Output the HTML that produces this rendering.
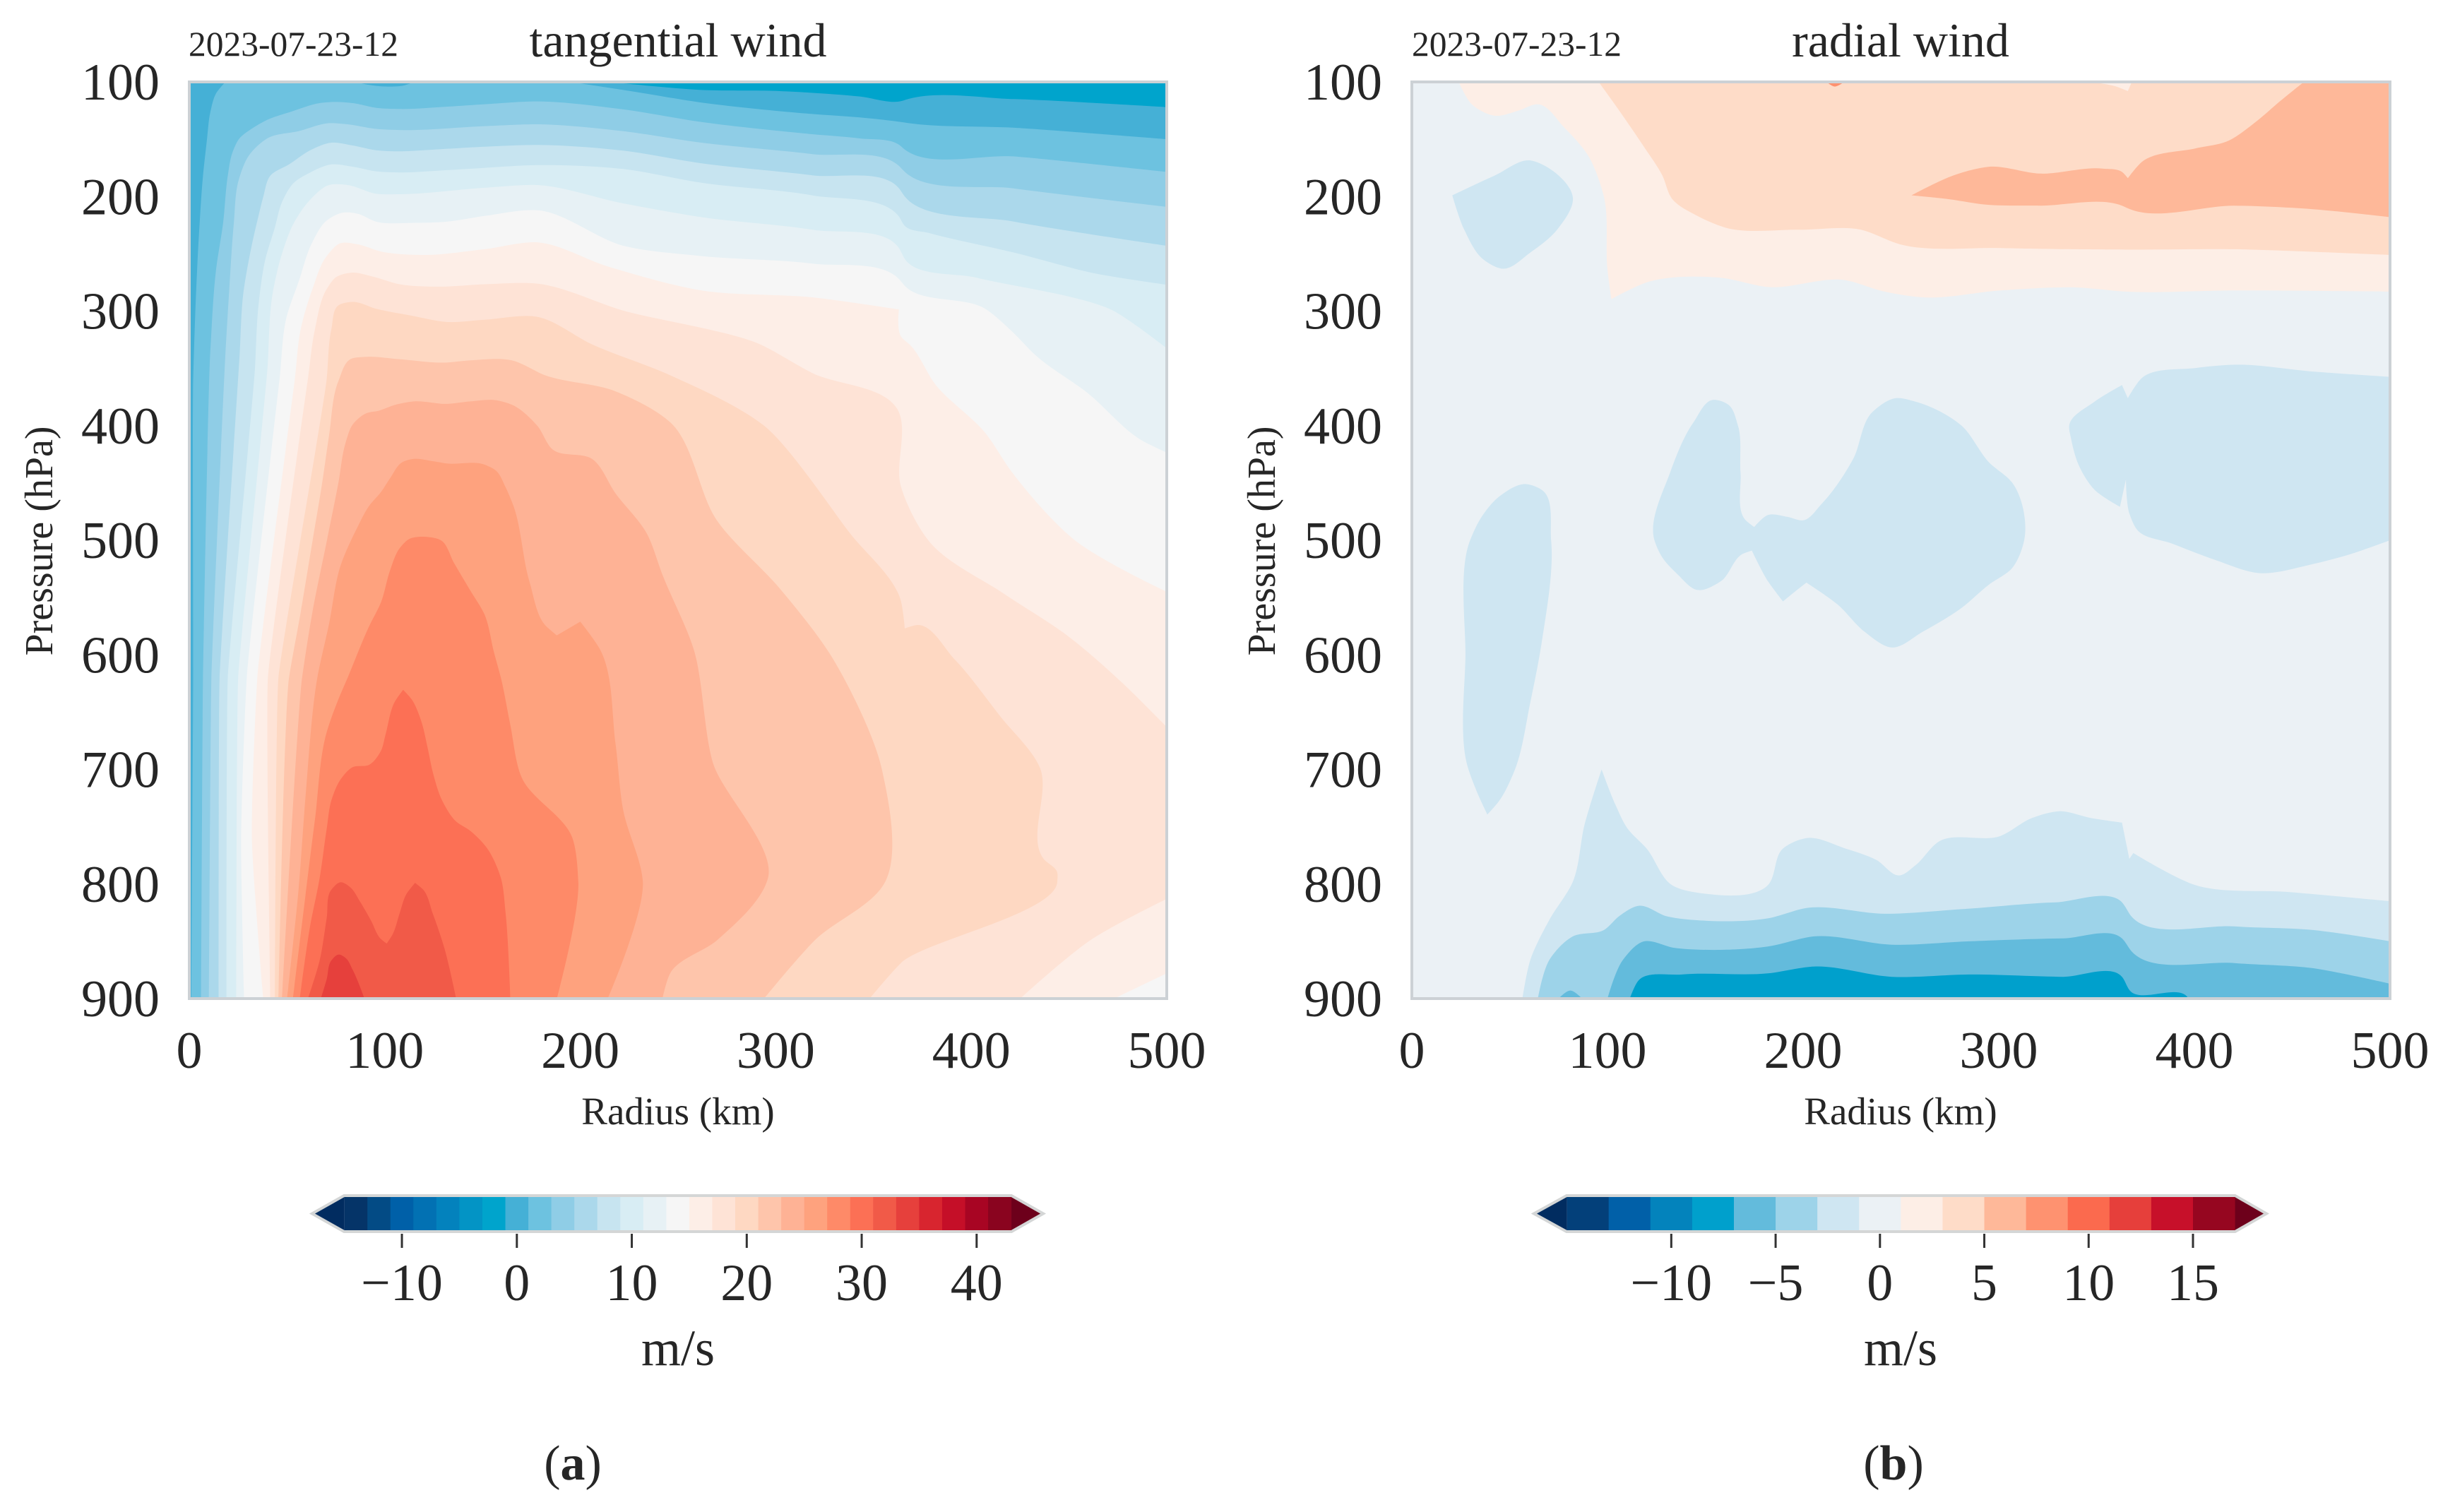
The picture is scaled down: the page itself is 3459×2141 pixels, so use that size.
<!DOCTYPE html>
<html lang="en">
<head>
<meta charset="utf-8">
<title>Tangential and radial wind cross sections</title>
<style>
html,body{margin:0;padding:0;background:#fff;}
svg{display:block;}
text{font-family:"Liberation Serif","Times New Roman",serif;fill:#262626;}
</style>
</head>
<body>
<svg id="figure" xmlns="http://www.w3.org/2000/svg" width="3459" height="2141" viewBox="0 0 3459 2141">
  <rect x="0" y="0" width="3459" height="2141" fill="#ffffff"/>
  <defs>
    <clipPath id="clip-a"><rect x="268" y="116" width="1384" height="1298"/></clipPath>
    <clipPath id="clip-b"><rect x="1999" y="116" width="1385" height="1298"/></clipPath>
  </defs>

  <g id="panel-a">
    <g id="field-a" clip-path="url(#clip-a)"></g>
    <rect x="268" y="116" width="1384" height="1298" fill="none" stroke="#ccd1d5" stroke-width="4"/>
    <text x="267" y="79" font-size="49.5">2023-07-23-12</text>
    <text x="960" y="80" font-size="68" text-anchor="middle">tangential wind</text>
    <text x="960" y="1592" font-size="55" text-anchor="middle">Radius (km)</text>
    <text transform="translate(74,766) rotate(-90)" font-size="56" text-anchor="middle">Pressure (hPa)</text>
    <g id="ticks-a"></g>
    <g id="bar-a"></g>
    <text x="960" y="1933" font-size="72" text-anchor="middle">m/s</text>
    <text x="811" y="2095" font-size="70" text-anchor="middle">(<tspan font-weight="bold">a</tspan>)</text>
  </g>

  <g id="panel-b">
    <g id="field-b" clip-path="url(#clip-b)"></g>
    <rect x="1999" y="116" width="1385" height="1298" fill="none" stroke="#ccd1d5" stroke-width="4"/>
    <text x="1999" y="79" font-size="49.5">2023-07-23-12</text>
    <text x="2691" y="80" font-size="68" text-anchor="middle">radial wind</text>
    <text x="2691" y="1592" font-size="55" text-anchor="middle">Radius (km)</text>
    <text transform="translate(1805,766) rotate(-90)" font-size="56" text-anchor="middle">Pressure (hPa)</text>
    <g id="ticks-b"></g>
    <g id="bar-b"></g>
    <text x="2691" y="1933" font-size="72" text-anchor="middle">m/s</text>
    <text x="2681" y="2095" font-size="70" text-anchor="middle">(<tspan font-weight="bold">b</tspan>)</text>
  </g>
</svg>

<script>
// Axis tick values
const radiusTicks = [0, 100, 200, 300, 400, 500];
const pressureTicks = [100, 200, 300, 400, 500, 600, 700, 800, 900];

// Colour scales: lower bound of each filled band and its colour
const tangentialLevels = [-15,-13,-11,-9,-7,-5,-3,-1,1,3,5,7,9,11,13,15,17,19,21,23,25,27,29,31,33,35,37,39,41];
const tangentialColors = ['#053468','#034b85','#0060a8','#0271b3','#0382bd','#0394c5','#00a4cc','#45b0d6','#6dc2e0','#8fcde6','#abd8eb','#c7e4f0','#d8edf4','#e7f1f5','#f6f6f6','#fdeee7','#fee3d6','#fed8c2','#fec5ab','#feb295','#fea27e','#fe8a68','#fc7055','#f15a48','#e6403c','#d8252f','#c50f28','#a80523','#8a041f'];
const tangentialBarTicks = [-10, 0, 10, 20, 30, 40];
const radialLevels = [-15,-13,-11,-9,-7,-5,-3,-1,1,3,5,7,9,11,13,15];
const radialColors = ['#03407a','#0160a8','#0383bc','#00a0cc','#63bbdc','#9dd3e9','#cfe6f2','#ebf1f5','#fdeee6','#fedcc8','#feb899','#fe9270','#fb6a4e','#e63f3b','#c7102a','#960620'];
const radialBarTicks = [-10, -5, 0, 5, 10, 15];

// Tangential wind contours: [radius km, pressure hPa], region at or above the level
const tanLevelM1 = [[215,100],[262,107],[302,108],[343,112.7],[364,116.8],[368,114.8],[422,115],[500,122],[500,900],[0,900],[0,100]];
const tanLevel1 = [[18.5,100],[13.7,110],[10.7,127],[9,151],[7,182],[5.3,223],[4,264],[3,305],[2,360],[2,620],[1,900],[500,900],[500,150],[422,140],[368,136],[364,135],[343,131],[318.6,128],[262,118],[222,107],[195,100],[115,100],[110,103],[100,104],[90,102],[85,100]];
const tanLevel3 = [[6,900],[7,620],[10.7,337],[13.7,264],[17.3,223],[19.7,182],[22,162],[25.8,149],[31.8,141],[40,133],[52,126],[66.7,118.5],[74,117.5],[83.6,118.5],[95.7,122.6],[107.7,123.6],[132,121.6],[151,119.5],[178,117],[222,124],[262,135],[318.6,145.6],[343,149.3],[363,154.8],[366,159],[422,165],[500,178.5],[500,900]];
const tanLevel5 = [[10,900],[11.3,620],[18.5,337],[20.3,285],[22.8,223],[25.2,186],[30.6,164],[40.2,149],[55.9,143],[71.5,136],[81,137],[95.6,141],[107.6,142],[151,138.6],[178,137],[222,143],[262,153],[318.6,163],[363,173.3],[366,178.5],[422,193],[500,209],[500,900]];
const tanLevel7 = [[15,900],[15.5,620],[25.8,337],[27.6,285],[31.8,244],[35.4,217],[37.8,200.6],[41.4,182],[51,172],[61.9,159.6],[72.7,153],[83.6,155.5],[95.6,159.6],[107.6,160.6],[119.7,159.6],[151,156.5],[178,155],[222,160],[262,171],[318.6,181.5],[363,192.8],[366,200],[422,222],[500,243],[500,900]];
const tanLevel9 = [[19,900],[19.7,620],[33.6,350],[35.4,295],[39,254],[43.8,227],[47.4,205],[53.5,188],[61.9,179],[72.7,172],[83.6,174],[95.6,178],[107.6,179],[131.7,177],[151,175],[178,172.6],[222,176],[262,188],[318.6,199],[363,217.5],[366,225.7],[378.8,232],[422,249],[463,267],[500,277],[500,900]];
const tanLevel11 = [[24,900],[25,620],[40,350],[42.6,285],[47.4,250],[53.5,223],[61.9,202.7],[71.5,190],[81,190],[95.6,197.6],[107.6,198],[151,192.4],[178,190],[222,206],[262,218],[318.6,229],[363,245],[366,254.5],[403,271],[473,300],[500,332.5],[500,900]];
const tanLevel13 = [[28,900],[26.5,760],[29.4,620],[46.2,359],[49.8,305],[55.9,274.6],[63,239.7],[70.3,221],[78.7,214],[86,215],[95.6,222],[113.7,223],[131.7,222],[151,217],[178,212],[222,243],[262,252],[318.6,258.6],[363,272],[366,278],[407.7,298.6],[421,318],[433,338.7],[459.5,371.5],[487,412.6],[500,423.5],[500,900]];
const tanLevel15 = [[37.8,900],[32,760],[34.8,620],[54,359],[57,315.7],[63,280.8],[70.3,252],[77.5,240.7],[86,241.7],[98,248],[119.7,251],[151,246],[178,240],[214,261],[262,282],[318.6,288],[363,298.6],[364,322],[369,330],[381.6,364],[407,406],[421,441],[453,500],[500,545],[500,878],[473,900]];
const tanLevel17 = [[41.4,900],[40.2,620],[60.7,359],[64.3,315.7],[70.3,280.8],[75,270.5],[83.6,266.4],[93,269.5],[107.6,276.6],[127,278.7],[151,276.6],[178,276],[222,299.6],[292,329],[318.6,354],[362,385],[364,453],[378,500],[417,547],[449,583],[477,624],[500,663],[500,813],[461,849],[425,900]];
const tanLevel19 = [[43.8,900],[45.6,620],[70.3,359],[72.7,315.7],[76.3,295],[83.6,292],[95.6,298],[113.7,304],[131.7,309.5],[151,307.5],[178,305],[206,329],[246,356],[294,400],[338,494],[364,553],[366,577],[372,574],[391.5,604],[415,654],[435,698],[437,778],[444,790],[444,798],[364,869],[348,900]];
const tanLevel21 = [[45.6,900],[51,620],[57,562.6],[63,501],[68,449.7],[71.5,408.6],[76.3,361],[82.4,342],[89.6,340],[107.6,342],[130.5,345],[143.8,343],[165,343],[182,356],[218,370],[246,397],[270,483],[302,542],[328,600],[354,698],[356,798],[320,849],[294,900]];
const tanLevel23 = [[47.4,900],[57.7,620],[63,562.6],[70.3,501],[76.3,449.7],[80,414.7],[83.6,399],[90.8,389],[96.8,387],[105,382],[114.9,378.8],[131.7,381],[143.8,378.8],[157,377.8],[165.4,382],[178,400],[186,421],[206,429],[218,459],[234,494],[242,530],[258,595],[268,695],[296,795],[270,849],[246,878],[242,900]];
const tanLevel25 = [[50,900],[55.9,805],[59.5,723],[65.5,620],[71.5,573],[77.5,521.6],[86,488.7],[92,470],[98,458],[102.8,445.6],[108.8,432],[114.9,429],[124.5,431],[131.7,433],[151,434],[157,439.4],[161.8,453.8],[165.4,468],[174,536],[182,574],[188,583],[200,571],[210,595],[218,677],[222,736],[232,798],[214,900]];
const tanLevel27 = [[53,900],[58.3,825.6],[64.3,743.4],[70.3,667.4],[76.3,638.7],[81,620],[92,575],[98,554.4],[102.8,525.7],[107.6,507],[112.4,499],[120.9,497],[128.7,500],[135.3,519.5],[143.8,544],[151,564.7],[155.8,597.5],[159.4,620],[164.2,661],[170,707],[196,760],[199,798],[188,900]];
const tanLevel29 = [[56.5,900],[61.9,835.9],[66.7,794.8],[70.3,751.7],[72.7,727],[77.5,708.5],[83.6,698],[92,696],[98,683.9],[100.4,669.5],[105.2,640.7],[109.4,630.5],[113.7,638.7],[118.5,657],[122,681.8],[124.5,702],[129.3,727],[136.5,745.5],[143.8,753.7],[152,768],[159.4,794.8],[161.8,825.6],[164.2,900]];
const tanLevel31 = [[60.7,900],[66.7,866.7],[70.3,829.7],[72.7,805],[77.5,798.5],[82.4,803],[87.2,815],[93,832],[98,848],[101,852],[104,844],[107.6,825.6],[111,809],[115.5,799],[119.7,805],[124.5,825.6],[130.5,856],[136.5,900]];
const tanLevel33 = [[67.3,900],[70.3,883],[72.7,866.7],[76.3,861.6],[80,864.6],[83.6,875],[89.6,900]];
const tangentialContours = [
  [-1, tanLevelM1],[1, tanLevel1],[3, tanLevel3],[5, tanLevel5],[7, tanLevel7],[9, tanLevel9],[11, tanLevel11],[13, tanLevel13],[15, tanLevel15],[17, tanLevel17],[19, tanLevel19],[21, tanLevel21],[23, tanLevel23],[25, tanLevel25],[27, tanLevel27],[29, tanLevel29],[31, tanLevel31],[33, tanLevel33]
];

// Radial wind contours: [radius km, pressure hPa]
const radUpper1 = [[24,100],[30.6,119.5],[42.6,129.5],[54.5,125],[64.4,119.5],[78,140],[90,164],[98,199],[100,264],[102,289.5],[120,275],[158,271],[182,279],[221.6,273],[241.5,283],[261,288],[301,282],[341,279.5],[365,283],[420,282],[500,283],[500,100]];
const radUpper3 = [[95.5,100],[106,125],[118,155],[128,181.5],[133,202],[146,217],[160,227],[198,229],[229.5,229],[249.4,241.7],[301,245],[365,246.4],[420,246],[500,251],[500,100],[368,100],[366,108],[360,104],[347,100]];
const radUpper5 = [[255.4,199],[277,181.5],[295,174],[321,180],[353,175.6],[363,178.5],[366,184],[373,170],[400.6,158],[416.5,152],[432,134],[444,116.5],[456,100],[500,100],[500,218],[460,211],[420.5,208],[367,211],[363,208],[321,208],[293,207],[273,202]];
const radUpperSpot5 = [[212,100],[216,104],[221,100]];
const radIslandA = [[20.7,199],[42.6,181.5],[60.5,168.5],[70.4,175.6],[82.3,201],[74.4,228.7],[60.5,249],[46.5,263],[36.6,255],[26.7,228.7]];
const radIslandB = [[29.8,500],[34.6,482.6],[44.6,462],[58.5,451],[66.4,456],[71.2,500],[66.4,589],[60.5,642],[52.5,701],[44.6,727.6],[38.6,739.4],[33.8,721.7],[28.6,698],[27.4,600.7]];
const radIslandC = [[124,500],[132,441],[144,397],[154,377.5],[162,382],[166.7,400],[168,441],[170.7,482.6],[175,488.5],[182,478],[192,479.6],[200,482.6],[209.6,468],[225.6,429],[235.5,388],[247.4,376],[257.4,379],[281,400],[295,432],[307,450],[313,500],[307,524],[295,538.7],[281,559],[261,580],[245.4,593.6],[231.5,580],[217.6,556],[201.7,537],[196,544.6],[189.7,553.4],[182,535.7],[173.8,509],[169,512],[158,535.7],[146,543.4],[136,530],[128,515]];
const radIslandD = [[336,400],[349,379],[363,364.5],[366,376],[373,358.6],[400.6,349.7],[420.5,346.8],[460,352.7],[500,357.4],[500,500],[480,512],[460,521],[432.4,528.6],[412,518],[388.7,503],[370.8,491],[366.8,476.7],[365,447],[362,470.8],[349,456],[341,435],[337,411.7]];
const radLower3 = [[56.5,900],[60.5,866.6],[70.4,831],[82.3,798],[88.3,748],[97,700],[104,730.6],[110,751],[120,769],[133,801],[150,808.5],[182,801],[189.7,769],[201.7,760],[221.6,769],[237.5,779],[249.4,792.5],[257.4,783.7],[269.3,763],[301,758],[317,742.4],[331,736.5],[347,742.4],[363,746.5],[366.8,778],[368.8,773],[400.6,801],[448.3,807],[500,815],[500,900]];
const radLower5 = [[64.4,900],[70.4,866],[82.3,845.7],[98.3,840],[106,828],[116,819],[130,828],[150,832],[182,830],[201.7,821],[241.5,826],[281,822],[329,816],[363,816],[367.7,828],[420.5,837],[460,840],[500,850],[500,900]];
const radLower7 = [[100,900],[108,866],[118,850.4],[134,855.7],[158,857.5],[182,854.6],[205.7,845.7],[245.4,853],[285,850],[333,847.5],[363,847.5],[368,859],[420.5,869],[460,873.4],[500,887],[500,900]];
const radLowerSpot7 = [[75,900],[81,893],[87,900]];
const radLower9 = [[111.4,900],[116,884],[138,879],[182,878],[205.7,872],[245.4,881],[285,879],[333,881],[363,881],[367,893],[396.6,899],[397,900]];
const radialContours = [
  [1, radUpper1],[3, radUpper3],[5, radUpper5],[7, radUpperSpot5],
  [-3, radIslandA],[-3, radIslandB],[-3, radIslandC],[-3, radIslandD],
  [-3, radLower3],[-5, radLower5],[-7, radLower7],[-7, radLowerSpot7],[-9, radLower9]
];

const SVGNS = 'http://www.w3.org/2000/svg';

function linear(d0, d1, r0, r1) {
  return function (v) { return r0 + (v - d0) * (r1 - r0) / (d1 - d0); };
}
function bandColor(levels, colors, value) {
  let idx = 0;
  for (let i = 0; i < levels.length; i++) { if (value >= levels[i]) idx = i; }
  return colors[idx];
}
function onPlotEdge(pt) {
  return pt[0] <= 0 || pt[0] >= 500 || pt[1] <= 100 || pt[1] >= 900;
}
// Closed outline through scaled points. Plot-edge points and sharp kinks stay as corners;
// other points get a short chord-weighted tangent so long straight runs do not bow.
function smoothClosedPath(pts, isCorner) {
  const n = pts.length, k = 0.3, maxArm = 45;
  const tangents = pts.map(function (p, i) {
    if (isCorner[i]) return null;
    const a = pts[(i - 1 + n) % n], b = pts[(i + 1) % n];
    const d0 = Math.hypot(p[0] - a[0], p[1] - a[1]) || 1, d1 = Math.hypot(b[0] - p[0], b[1] - p[1]) || 1;
    const u0 = [(p[0] - a[0]) / d0, (p[1] - a[1]) / d0], u1 = [(b[0] - p[0]) / d1, (b[1] - p[1]) / d1];
    if (u0[0] * u1[0] + u0[1] * u1[1] < 0.35) return null;
    const tx = u0[0] * d1 + u1[0] * d0, ty = u0[1] * d1 + u1[1] * d0, tl = Math.hypot(tx, ty) || 1;
    return [tx / tl, ty / tl];
  });
  let d = 'M' + pts[0][0].toFixed(1) + ' ' + pts[0][1].toFixed(1);
  for (let i = 0; i < n; i++) {
    const p1 = pts[i], p2 = pts[(i + 1) % n], t1 = tangents[i], t2 = tangents[(i + 1) % n];
    const arm = Math.min(Math.hypot(p2[0] - p1[0], p2[1] - p1[1]) * k, maxArm);
    const c1 = t1 ? [p1[0] + t1[0] * arm, p1[1] + t1[1] * arm] : p1;
    const c2 = t2 ? [p2[0] - t2[0] * arm, p2[1] - t2[1] * arm] : p2;
    d += 'C' + c1[0].toFixed(1) + ' ' + c1[1].toFixed(1) + ' ' + c2[0].toFixed(1) + ' ' + c2[1].toFixed(1) + ' ' + p2[0].toFixed(1) + ' ' + p2[1].toFixed(1);
  }
  return d + 'Z';
}

function drawField(hostId, baseValue, contours, levels, colors, xScale, yScale) {
  const host = document.getElementById(hostId);
  const base = document.createElementNS(SVGNS, 'rect');
  
  
  base.setAttribute('x', xScale(0));
  base.setAttribute('y', yScale(100));
  base.setAttribute('width', xScale(500) - xScale(0));
  base.setAttribute('height', yScale(900) - yScale(100));
  base.setAttribute('fill', bandColor(levels, colors, baseValue));
  host.appendChild(base);
  contours.forEach(function (entry) {
    const pts = entry[1].map(function (pt) { return [xScale(pt[0]), yScale(pt[1])]; });
    const corners = entry[1].map(onPlotEdge);
    const shape = document.createElementNS(SVGNS, 'path');
    
    
    shape.setAttribute('d', smoothClosedPath(pts, corners));
    shape.setAttribute('fill', bandColor(levels, colors, entry[0]));
    host.appendChild(shape);
  });
}

function drawTicks(hostId, xScale, yScale, labelRight) {
  const host = document.getElementById(hostId);
  radiusTicks.forEach(function (v) {
    const t = document.createElementNS(SVGNS, 'text');
    
    
    t.setAttribute('x', xScale(v));
    t.setAttribute('y', 1512);
    t.setAttribute('font-size', 74);
    t.setAttribute('text-anchor', 'middle');
    t.textContent = String(v);
    host.appendChild(t);
  });
  pressureTicks.forEach(function (v) {
    const t = document.createElementNS(SVGNS, 'text');
    
    
    t.setAttribute('x', labelRight);
    t.setAttribute('y', yScale(v) + 25);
    t.setAttribute('font-size', 74);
    t.setAttribute('text-anchor', 'end');
    t.textContent = String(v);
    host.appendChild(t);
  });
}

function drawColorbar(hostId, levels, colors, ticks, barScale, tipLeft, tipRight) {
  const host = document.getElementById(hostId);
  const top = 1695, bottom = 1742, mid = (top + bottom) / 2;
  const step = levels[1] - levels[0];
  const v0 = levels[0], v1 = levels[levels.length - 1] + step;
  const outline = document.createElementNS(SVGNS, 'polygon');
  
  
  outline.setAttribute('points', tipLeft + ',' + mid + ' ' + barScale(v0) + ',' + top + ' ' + barScale(v1) + ',' + top + ' ' + tipRight + ',' + mid + ' ' + barScale(v1) + ',' + bottom + ' ' + barScale(v0) + ',' + bottom);
  outline.setAttribute('fill', '#ffffff');
  outline.setAttribute('stroke', '#d4d6d6');
  outline.setAttribute('stroke-width', '8');
  host.appendChild(outline);
  const lowTip = document.createElementNS(SVGNS, 'polygon');
  
  
  lowTip.setAttribute('points', tipLeft + ',' + mid + ' ' + barScale(v0) + ',' + top + ' ' + barScale(v0) + ',' + bottom);
  lowTip.setAttribute('fill', '#012c60');
  host.appendChild(lowTip);
  const highTip = document.createElementNS(SVGNS, 'polygon');
  
  
  highTip.setAttribute('points', tipRight + ',' + mid + ' ' + barScale(v1) + ',' + top + ' ' + barScale(v1) + ',' + bottom);
  highTip.setAttribute('fill', '#6d001b');
  host.appendChild(highTip);
  levels.forEach(function (lv, i) {
    const seg = document.createElementNS(SVGNS, 'rect');
    
    
    seg.setAttribute('x', barScale(lv));
    seg.setAttribute('y', top);
    seg.setAttribute('width', barScale(lv + step) - barScale(lv) + 0.5);
    seg.setAttribute('height', bottom - top);
    seg.setAttribute('fill', colors[i]);
    host.appendChild(seg);
  });
  ticks.forEach(function (v) {
    const mark = document.createElementNS(SVGNS, 'line');
    
    
    mark.setAttribute('x1', barScale(v));
    mark.setAttribute('x2', barScale(v));
    mark.setAttribute('y1', 1747);
    mark.setAttribute('y2', 1767);
    mark.setAttribute('stroke', '#333333');
    mark.setAttribute('stroke-width', '3');
    host.appendChild(mark);
    const label = document.createElementNS(SVGNS, 'text');
    
    
    label.setAttribute('x', barScale(v));
    label.setAttribute('y', 1841);
    label.setAttribute('font-size', 74);
    label.setAttribute('text-anchor', 'middle');
    label.textContent = String(v).replace('-', '\u2212');
    host.appendChild(label);
  });
}

const yPressure = linear(100, 900, 116, 1414);
const xRadiusA = linear(0, 500, 268, 1652);
const xRadiusB = linear(0, 500, 1999, 3384);
const barA = linear(0, 40, 731.8, 1382.8);
const barB = linear(0, 15, 2661.8, 3105);

drawField('field-a', -3, tangentialContours, tangentialLevels, tangentialColors, xRadiusA, yPressure);
drawField('field-b', -1, radialContours, radialLevels, radialColors, xRadiusB, yPressure);
drawTicks('ticks-a', xRadiusA, yPressure, 226);
drawTicks('ticks-b', xRadiusB, yPressure, 1957);
drawColorbar('bar-a', tangentialLevels, tangentialColors, tangentialBarTicks, barA, 446, 1473);
drawColorbar('bar-b', radialLevels, radialColors, radialBarTicks, barB, 2176, 3205);
</script>
</body>
</html>
